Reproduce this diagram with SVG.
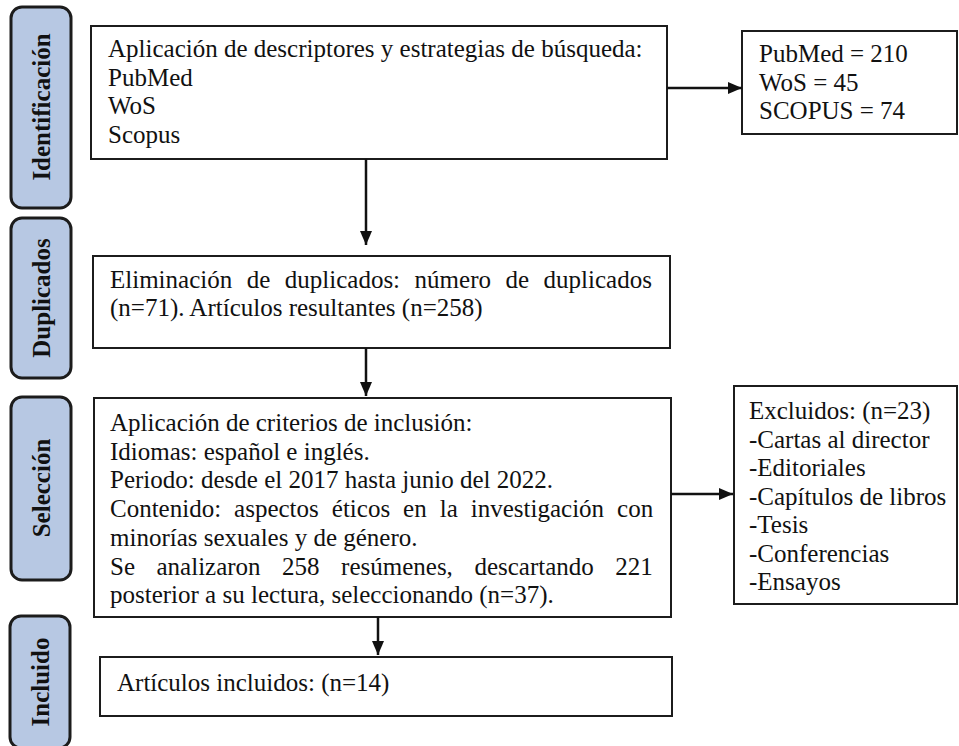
<svg xmlns="http://www.w3.org/2000/svg" width="959" height="746" viewBox="0 0 959 746">
<style>
.bg{fill:#ffffff}
.stage rect{fill:#b7c8e3;stroke:#1c1c1c;stroke-width:3}
.stage text{font-family:"Liberation Serif","Times New Roman",serif;font-size:25px;font-weight:bold;fill:#111;text-anchor:middle;dominant-baseline:central}
.box rect{fill:#ffffff;stroke:#1c1c1c;stroke-width:2}
.box text{font-family:"Liberation Serif","Times New Roman",serif;font-size:25px;fill:#111}
.conn{stroke:#111;stroke-width:2.5;fill:none;marker-end:url(#ah)}
</style>
<defs>
<marker id="ah" viewBox="0 0 14 12" refX="14" refY="6" markerWidth="14" markerHeight="12" markerUnits="userSpaceOnUse" orient="auto">
<path d="M0,0 L14,6 L0,12 z" fill="#111"/>
</marker>
</defs>
<rect class="bg" x="0" y="0" width="959" height="746"/>

<g id="stage-identificacion" class="stage">
<rect x="11" y="7" width="60" height="201" rx="11"/>
<text transform="translate(41,107) rotate(-90)">Identificación</text>
</g>
<g id="stage-duplicados" class="stage">
<rect x="11" y="218" width="60" height="160" rx="11"/>
<text transform="translate(41,298) rotate(-90)">Duplicados</text>
</g>
<g id="stage-seleccion" class="stage">
<rect x="11" y="397" width="60" height="183" rx="11"/>
<text transform="translate(41,488) rotate(-90)">Selección</text>
</g>
<g id="stage-incluido" class="stage">
<rect x="10" y="616" width="60" height="132" rx="11"/>
<text transform="translate(40,682) rotate(-90)">Incluido</text>
</g>

<g id="box-busqueda" class="box">
<rect x="91" y="26" width="576" height="133"/>
<text x="108" y="57">Aplicación de descriptores y estrategias de búsqueda:</text>
<text x="108" y="85.5">PubMed</text>
<text x="108" y="114">WoS</text>
<text x="108" y="142.5">Scopus</text>
</g>

<g id="box-resultados" class="box">
<rect x="742" y="31" width="215" height="103"/>
<text x="759" y="62">PubMed = 210</text>
<text x="759" y="90.5">WoS = 45</text>
<text x="759" y="119">SCOPUS = 74</text>
</g>

<g id="box-duplicados" class="box">
<rect x="93" y="256" width="577" height="92"/>
<text y="288"><tspan x="110">Eliminación</tspan><tspan x="246.7">de</tspan><tspan x="284.8">duplicados:</tspan><tspan x="414.6">número</tspan><tspan x="505.5">de</tspan><tspan x="543.6">duplicados</tspan></text>
<text x="110" y="316">(n=71). Artículos resultantes (n=258)</text>
</g>

<g id="box-seleccion" class="box">
<rect x="94" y="398" width="577" height="219"/>
<text x="110" y="431">Aplicación de criterios de inclusión:</text>
<text x="110" y="459.7">Idiomas: español e inglés.</text>
<text x="110" y="488.4">Periodo: desde el 2017 hasta junio del 2022.</text>
<text y="517.1"><tspan x="110">Contenido:</tspan><tspan x="234.1">aspectos</tspan><tspan x="331.8">éticos</tspan><tspan x="403.1">en</tspan><tspan x="439.7">la</tspan><tspan x="470.8">investigación</tspan><tspan x="617.1">con</tspan></text>
<text x="110" y="545.8">minorías sexuales y de género.</text>
<text y="574.5"><tspan x="110">Se</tspan><tspan x="156.5">analizaron</tspan><tspan x="282.1">258</tspan><tspan x="341.1">resúmenes,</tspan><tspan x="474.4">descartando</tspan><tspan x="615.3">221</tspan></text>
<text x="110" y="603.2">posterior a su lectura, seleccionando (n=37).</text>
</g>

<g id="box-excluidos" class="box">
<rect x="734" y="386" width="223" height="218"/>
<text x="749" y="419">Excluidos: (n=23)</text>
<text x="749" y="447.5">-Cartas al director</text>
<text x="749" y="476">-Editoriales</text>
<text x="749" y="504.5">-Capítulos de libros</text>
<text x="749" y="533">-Tesis</text>
<text x="749" y="561.5">-Conferencias</text>
<text x="749" y="590">-Ensayos</text>
</g>

<g id="box-incluidos" class="box">
<rect x="100" y="657" width="572" height="59"/>
<text x="117" y="691">Artículos incluidos: (n=14)</text>
</g>

<g id="connectors">
<line class="conn" x1="667" y1="88" x2="742" y2="88"/>
<line class="conn" x1="366" y1="159" x2="366" y2="245"/>
<line class="conn" x1="366" y1="348" x2="366" y2="396"/>
<line class="conn" x1="671" y1="494" x2="733" y2="494"/>
<line class="conn" x1="378" y1="617" x2="378" y2="655"/>
</g>
</svg>
